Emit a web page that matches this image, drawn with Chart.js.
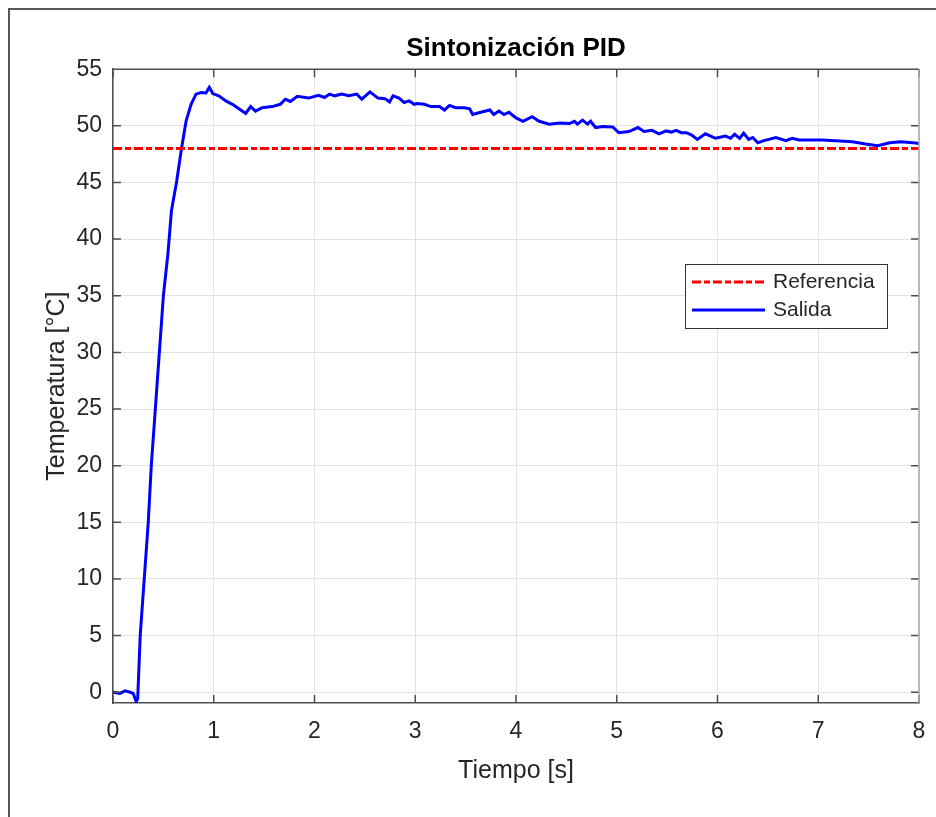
<!DOCTYPE html>
<html lang="es">

<head>
    <meta charset="UTF-8">
    <title>Sintonización PID</title>
    <script src="https://cdn.jsdelivr.net/npm/chart.js"></script>
    <style>
        body { margin: 0; background: #fff; }
        .figura { position: relative; width: 936px; height: 817px; overflow: hidden; }
        .marco {
            position: absolute; left: 8px; top: 8px; width: 960px; height: 840px;
            border-left: 2px solid #555; border-top: 2px solid #555; pointer-events: none;
        }
    </style>
</head>

<body>
    <div class="figura">
        <canvas id="graficoPID" width="936" height="817"></canvas>
        <div class="marco"></div>
    </div>

    <script>
        // datos
        const tiempo = [0, 0.07, 0.12, 0.17, 0.20, 0.23, 0.245, 0.27, 0.31, 0.35, 0.38, 0.42, 0.46, 0.50, 0.545, 0.58,
            0.63, 0.68, 0.726, 0.775, 0.824, 0.874, 0.923, 0.956, 0.99, 1.05, 1.12, 1.186, 1.25, 1.317, 1.366, 1.415,
            1.48, 1.58, 1.66, 1.71, 1.76, 1.83, 1.94, 2.04, 2.10, 2.15, 2.20, 2.27, 2.34, 2.42, 2.47, 2.55, 2.63, 2.70,
            2.745, 2.78, 2.84, 2.89, 2.94, 2.99, 3.02, 3.09, 3.155, 3.24, 3.29, 3.34, 3.40, 3.49, 3.54, 3.57, 3.65, 3.74,
            3.78, 3.83, 3.88, 3.93, 4.0, 4.07, 4.16, 4.23, 4.33, 4.43, 4.53, 4.58, 4.61, 4.66, 4.71, 4.74, 4.79, 4.86,
            4.96, 5.02, 5.12, 5.21, 5.27, 5.35, 5.42, 5.49, 5.54, 5.59, 5.64, 5.69, 5.74, 5.80, 5.88, 5.98, 6.08, 6.13,
            6.17, 6.22, 6.26, 6.31, 6.35, 6.40, 6.46, 6.58, 6.68, 6.74, 6.81, 7.04, 7.34, 7.47, 7.59, 7.71, 7.82, 7.94, 8.0];
        const salida = [0, -0.1, 0.13, 0.0, -0.1, -0.8, -0.6, 5, 10, 15, 20, 25, 30, 35, 38.7, 42.5,
            45, 48, 50.44, 51.9, 52.8, 52.94, 52.9, 53.4, 52.85, 52.65, 52.2, 51.9, 51.5, 51.1, 51.7, 51.3,
            51.6, 51.7, 51.9, 52.35, 52.15, 52.6, 52.45, 52.7, 52.5, 52.8, 52.65, 52.8, 52.65, 52.8, 52.35, 53.0, 52.45, 52.4,
            52.1, 52.65, 52.45, 52.06, 52.2, 51.9, 51.97, 51.9, 51.7, 51.7, 51.4, 51.8, 51.6, 51.6, 51.5, 51.0, 51.2, 51.4,
            51.0, 51.3, 51.0, 51.2, 50.7, 50.4, 50.8, 50.4, 50.15, 50.24, 50.2, 50.4, 50.15, 50.5, 50.15, 50.4, 49.85, 49.94,
            49.9, 49.4, 49.5, 49.85, 49.5, 49.6, 49.3, 49.55, 49.45, 49.6, 49.4, 49.4, 49.2, 48.8, 49.3, 48.9, 49.1, 48.9,
            49.26, 48.9, 49.35, 48.8, 48.97, 48.5, 48.7, 48.97, 48.7, 48.9, 48.76, 48.76, 48.6, 48.4, 48.24, 48.5, 48.6, 48.5, 48.45];

        const tiempoRef = [0, 8];
        const referencia = [48, 48];

        const ticksX = [0, 1, 2, 3, 4, 5, 6, 7, 8];
        const ticksY = [0, 5, 10, 15, 20, 25, 30, 35, 40, 45, 50, 55];

        const colorTexto = '#262626';
        Chart.defaults.font.family = '"Liberation Sans", Arial, Helvetica, sans-serif';

        // caja estilo matlab: borde superior/derecho y ticks hacia adentro
        const cajaEjes = {
            id: 'cajaEjes',
            afterDatasetsDraw(chart) {
                const { ctx, chartArea: a, scales: { x, y } } = chart;
                ctx.save();
                ctx.lineWidth = 1.5;
                ctx.strokeStyle = '#4d4d4d';
                ctx.beginPath();
                x.ticks.forEach(t => {
                    const px = x.getPixelForValue(t.value);
                    ctx.moveTo(px, a.bottom); ctx.lineTo(px, a.bottom - 8);
                    ctx.moveTo(px, a.top); ctx.lineTo(px, a.top + 8);
                });
                y.ticks.forEach(t => {
                    const py = y.getPixelForValue(t.value);
                    ctx.moveTo(a.left, py); ctx.lineTo(a.left + 8, py);
                    ctx.moveTo(a.right, py); ctx.lineTo(a.right - 8, py);
                });
                ctx.moveTo(a.left, a.top); ctx.lineTo(a.right, a.top);
                ctx.stroke();
                ctx.strokeStyle = '#a8a8a8';
                ctx.beginPath();
                ctx.moveTo(a.right, a.top); ctx.lineTo(a.right, a.bottom);
                ctx.stroke();
                ctx.restore();
            }
        };

        // leyenda dentro del area del grafico
        const leyendaInterna = {
            id: 'leyendaInterna',
            afterDraw(chart) {
                const ctx = chart.ctx;
                const caja = { x: 685, y: 264, w: 202, h: 64 };
                ctx.save();
                ctx.fillStyle = '#fff';
                ctx.fillRect(caja.x, caja.y, caja.w, caja.h);
                ctx.strokeStyle = '#333';
                ctx.lineWidth = 1;
                ctx.strokeRect(caja.x + 0.5, caja.y + 0.5, caja.w, caja.h);
                ctx.font = '21px "Liberation Sans", Arial, sans-serif';
                ctx.textBaseline = 'middle';
                chart.data.datasets.forEach((ds, i) => {
                    const yy = caja.y + 18 + i * 28;
                    ctx.strokeStyle = ds.borderColor;
                    ctx.lineWidth = ds.borderWidth;
                    ctx.setLineDash(ds.borderDash || []);
                    ctx.beginPath();
                    ctx.moveTo(caja.x + 7, yy);
                    ctx.lineTo(caja.x + 80, yy);
                    ctx.stroke();
                    ctx.setLineDash([]);
                    ctx.fillStyle = colorTexto;
                    ctx.fillText(ds.label, caja.x + 88, yy);
                });
                ctx.restore();
            }
        };

        const config = {
            type: 'line',
            data: {
                datasets: [{
                    label: 'Referencia',
                    data: tiempoRef.map((t, i) => ({ x: t, y: referencia[i] })),
                    borderColor: '#ff0000',
                    borderWidth: 3,
                    borderDash: [9, 3, 6, 3],
                    pointRadius: 0,
                    fill: false
                }, {
                    label: 'Salida',
                    data: tiempo.map((t, i) => ({ x: t, y: salida[i] })),
                    borderColor: '#0000ff',
                    borderWidth: 3,
                    pointRadius: 0,
                    fill: false
                }]
            },
            options: {
                responsive: false,
                animation: false,
                layout: { padding: { top: 0, right: 17, bottom: 0, left: 0 } },
                plugins: {
                    legend: { display: false },
                    tooltip: { enabled: false },
                    title: {
                        display: true,
                        fullSize: false,
                        text: 'Sintonización PID',
                        color: '#000',
                        font: { size: 26, weight: 'bold' },
                        padding: { top: 33, bottom: 5 }
                    }
                },
                scales: {
                    x: {
                        type: 'linear',
                        min: 0,
                        max: 8,
                        afterBuildTicks: s => { s.ticks = ticksX.map(v => ({ value: v })); },
                        afterFit: s => { s.height = 114; },
                        grid: { color: '#e2e2e2', drawTicks: false },
                        border: { color: '#4d4d4d', width: 1.5 },
                        // padding pequeño para no reducir el area por la derecha; la altura de linea baja las etiquetas
                        ticks: { color: colorTexto, font: { size: 23, lineHeight: 2.3 }, padding: 2, autoSkip: false, maxRotation: 0 },
                        title: {
                            display: true, text: 'Tiempo [s]', color: colorTexto,
                            font: { size: 25 }, padding: { top: 0, bottom: 31 }
                        }
                    },
                    y: {
                        min: -0.95,
                        max: 55,
                        afterBuildTicks: s => { s.ticks = ticksY.map(v => ({ value: v })); },
                        afterFit: s => { s.width = 113; },
                        grid: { color: '#e2e2e2', drawTicks: false },
                        border: { color: '#4d4d4d', width: 1.5 },
                        ticks: { color: colorTexto, font: { size: 23 }, padding: 11, autoSkip: false },
                        title: {
                            display: true, text: 'Temperatura [°C]', color: colorTexto,
                            font: { size: 25 }, padding: { top: 42, bottom: 0 }
                        }
                    }
                }
            },
            plugins: [cajaEjes, leyendaInterna]
        };

        new Chart(document.getElementById('graficoPID'), config);
    </script>
</body>

</html>
